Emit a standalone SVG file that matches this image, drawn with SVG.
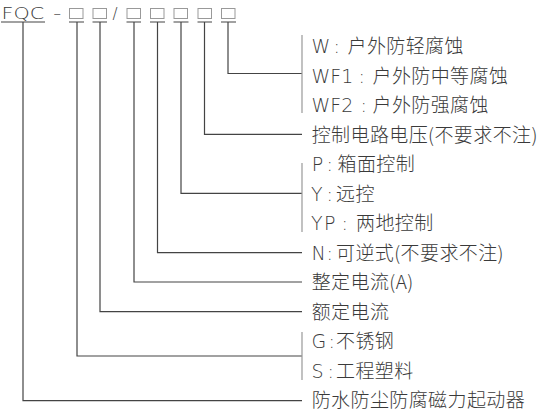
<svg xmlns="http://www.w3.org/2000/svg" width="542" height="418" viewBox="0 0 542 418">
<style>
.t{font-family:"Noto Sans CJK SC","Noto Sans",sans-serif;font-size:19px;font-weight:300;letter-spacing:0.4px;fill:#3a3a3a}
.l{font-family:"DejaVu Sans","Noto Sans CJK SC",sans-serif;font-weight:200;letter-spacing:0}
.h{font-family:"DejaVu Sans","Noto Sans CJK SC",sans-serif;font-size:15px;font-weight:200;fill:#3a3a3a}
.c{stroke:#444;stroke-width:1.2;fill:none}
.b{stroke:#999;stroke-width:1.2;fill:none}
.box{stroke:#999;stroke-width:1;fill:none}
</style>
<rect width="542" height="418" fill="#fff"/>
<g id="header">
<text class="h" x="0" y="0" font-size="14.5" transform="translate(1.5,18.5) scale(1.38,1)">FQC</text>
<text class="h" x="53.5" y="18.5">–</text>
<text class="h" x="112.5" y="18.5">/</text>
<rect class="box" x="69.5" y="8.5" width="13.5" height="10"/>
<rect class="box" x="93" y="8.5" width="13.5" height="10"/>
<rect class="box" x="127" y="8.5" width="13.5" height="10"/>
<rect class="box" x="150.5" y="8.5" width="13.5" height="10"/>
<rect class="box" x="174" y="8.5" width="13.5" height="10"/>
<rect class="box" x="198" y="8.5" width="13.5" height="10"/>
<rect class="box" x="221.5" y="8.5" width="13.5" height="10"/>
</g>
<g id="connectors">
<path class="c" d="M1 22H45M69 22H84M92.5 22H107M126.5 22H141M150 22H165M173.5 22H188.5M197.5 22H212M221 22H236"/>
<path class="c" d="M228 22V73.5H302"/>
<path class="c" d="M204.5 22V134.3H302"/>
<path class="c" d="M181 22V193.3H302"/>
<path class="c" d="M157.5 22V252.7H302"/>
<path class="c" d="M134 22V282H302"/>
<path class="c" d="M100 22V311.7H302"/>
<path class="c" d="M77 22V356H302"/>
<path class="c" d="M23 22V400.7H302"/>
<path class="b" d="M302 35V113M302 163V232M302 332V380"/>
</g>
<g id="n1"><text class="t" x="311.5" y="53"><tspan class="l">W</tspan><tspan class="l" x="333.5">:</tspan><tspan x="347.5">户外防轻腐蚀</tspan></text></g>
<g id="n2"><text class="t" x="311.5" y="82.5"><tspan class="l">WF1</tspan><tspan class="l" x="358.5">:</tspan><tspan x="372.5">户外防中等腐蚀</tspan></text></g>
<g id="n3"><text class="t" x="311.5" y="112"><tspan class="l">WF2</tspan><tspan class="l" x="360.5">:</tspan><tspan x="372.5">户外防强腐蚀</tspan></text></g>
<g id="n4"><text class="t" x="311.7" y="141.5">控制电路电压(不要求不注)</text></g>
<g id="n5"><text class="t" x="311.7" y="171"><tspan class="l">P</tspan><tspan class="l" x="326.5">:</tspan><tspan x="337.5">箱面控制</tspan></text></g>
<g id="n6"><text class="t" x="311" y="200.5"><tspan class="l">Y</tspan><tspan class="l" x="326.5">:</tspan><tspan x="336">远控</tspan></text></g>
<g id="n7"><text class="t" x="311" y="230"><tspan class="l">Y</tspan><tspan class="l" x="324">P</tspan><tspan class="l" x="341.5">:</tspan><tspan x="356">两地控制</tspan></text></g>
<g id="n8"><text class="t" x="311.5" y="259.5"><tspan class="l">N</tspan><tspan class="l" x="326.5">:</tspan><tspan x="336">可逆式(不要求不注)</tspan></text></g>
<g id="n9"><text class="t" x="311.7" y="289">整定电流(A)</text></g>
<g id="n10"><text class="t" x="311.7" y="318.5">额定电流</text></g>
<g id="n11"><text class="t" x="311.5" y="348"><tspan class="l">G</tspan><tspan class="l" x="328.5">:</tspan><tspan x="336">不锈钢</tspan></text></g>
<g id="n12"><text class="t" x="311.5" y="377.5"><tspan class="l">S</tspan><tspan class="l" x="327.5">:</tspan><tspan x="336">工程塑料</tspan></text></g>
<g id="n13"><text class="t" x="311.7" y="407">防水防尘防腐磁力起动器</text></g>
</svg>
